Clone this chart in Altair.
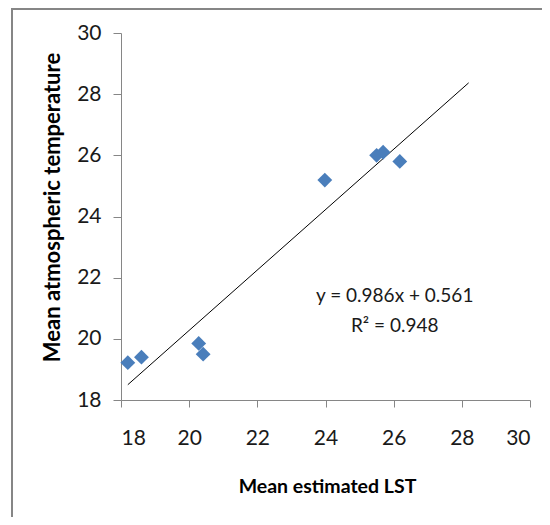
import altair as alt
import pandas as pd

lst_values = [18.2, 18.6, 20.28, 20.41, 23.98, 25.5, 25.69, 26.18]
atm_values = [19.22, 19.4, 19.85, 19.5, 25.19, 26.0, 26.1, 25.8]

# Trendline endpoints (as drawn)
trend_x = [18.2, 28.2]
trend_y = [18.5, 28.37]

# Annotation
eq_lines = ["y = 0.986x + 0.561", "R² = 0.948"]
eq_x = [26.03, 26.03]
eq_y = [21.39, 20.41]

tick_vals = [18, 20, 22, 24, 26, 28, 30]

FONT = "Lato"
W, H = 409, 367
PAD = {"left": 113, "top": 25, "right": 12, "bottom": 117}

pts = pd.DataFrame({"x": lst_values, "y": atm_values})
trend = pd.DataFrame({"x": trend_x, "y": trend_y})
eq = pd.DataFrame({"x": eq_x, "y": eq_y, "t": eq_lines})

xscale = alt.Scale(domain=[18, 30], nice=False, zero=False)
yscale = alt.Scale(domain=[18, 30], nice=False, zero=False)

xaxis = alt.Axis(
    title="Mean estimated LST", values=tick_vals, grid=False,
    domainColor="#868686", tickColor="#868686", tickSize=7,
    labelFont=FONT, labelFontSize=21, labelColor="#1a1a1a", labelPadding=20,
    titleFont=FONT, titleFontSize=19.5, titleFontWeight="bold", titleColor="#000000",
    titleX=206, titleY=86, titleBaseline="middle", titleAlign="center",
)
yaxis = alt.Axis(
    title="Mean atmospheric temperature", values=tick_vals, grid=False,
    domainColor="#868686", tickColor="#868686", tickSize=8,
    labelFont=FONT, labelFontSize=21, labelColor="#1a1a1a", labelPadding=12,
    titleFont=FONT, titleFontSize=22, titleFontWeight="bold", titleColor="#000000",
    titleX=-69, titleY=174, titleAngle=270, titleBaseline="middle", titleAlign="center",
)

points = alt.Chart(pts).mark_point(
    shape="diamond", filled=True, size=220, color="#4A7EBB", opacity=1
).encode(
    x=alt.X("x:Q", scale=xscale, axis=xaxis),
    y=alt.Y("y:Q", scale=yscale, axis=yaxis),
)

line = alt.Chart(trend).mark_line(color="#000000", strokeWidth=1).encode(
    x=alt.X("x:Q", scale=xscale),
    y=alt.Y("y:Q", scale=yscale),
)

text = alt.Chart(eq).mark_text(
    font=FONT, fontSize=19, color="#1a1a1a", align="center", baseline="middle"
).encode(
    x=alt.X("x:Q", scale=xscale),
    y=alt.Y("y:Q", scale=yscale),
    text="t:N",
)

frame_top = alt.Chart(pd.DataFrame({"a": [0]})).mark_rule(
    color="#868686", strokeWidth=2
).encode(x=alt.value(-109), x2=alt.value(421), y=alt.value(-24))
frame_left = alt.Chart(pd.DataFrame({"a": [0]})).mark_rule(
    color="#868686", strokeWidth=2
).encode(x=alt.value(-109), y=alt.value(-25), y2=alt.value(484))

chart = alt.layer(frame_top, frame_left, line, points, text).properties(
    width=W, height=H,
    autosize=alt.AutoSizeParams(type="none"),
    padding=PAD,
    background="white",
).configure_view(stroke=None)

chart.save("out.html", embed_options={"renderer": "svg", "actions": False})
